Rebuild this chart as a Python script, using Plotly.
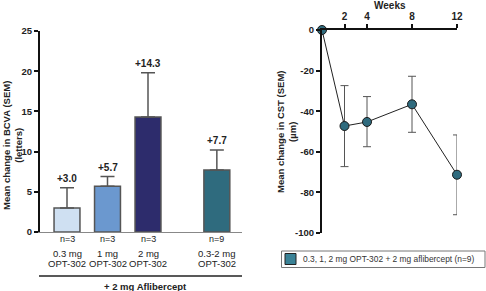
import plotly.graph_objects as go

W, H = 486, 291

# ---- data: left panel (BCVA) ----
bar_pos = [0, 1, 2, 3.7]
bar_vals = [3.0, 5.7, 14.3, 7.7]
bar_sem = [2.5, 1.2, 5.5, 2.5]
bar_labels = ["+3.0", "+5.7", "+14.3", "+7.7"]
bar_n = ["n=3", "n=3", "n=3", "n=9"]
bar_dose = ["0.3 mg", "1 mg", "2 mg", "0.3-2 mg"]
bar_drug = ["OPT-302", "OPT-302", "OPT-302", "OPT-302"]
bar_colors = ["#cfe0f2", "#6b98cf", "#2d2c6c", "#2f6b7e"]
bcva_ticks = [0, 5, 10, 15, 20, 25]

# ---- data: right panel (CST) ----
weeks = [0, 2, 4, 8, 12]
cst_vals = [0, -47.3, -45.3, -36.6, -71.3]
cst_sem_up = [0, 19.9, 12.5, 13.8, 19.6]
cst_sem_dn = [0, 20.0, 12.2, 13.8, 19.7]
week_ticks = [2, 4, 8, 12]
cst_ticks = [0, -20, -40, -60, -80, -100]
legend_label = "0.3, 1, 2 mg OPT-302 + 2 mg aflibercept (n=9)"
legend_color = "#3a8296"

FONT = "Liberation Sans, Arial, sans-serif"

def px_x(p):
    return p / W

def px_y(p):
    return (H - p) / H

fig = go.Figure()

fig.add_trace(go.Bar(
    x=bar_pos, y=bar_vals, width=0.64,
    marker=dict(color=bar_colors, line=dict(color="#555555", width=1.5)),
    error_y=dict(type="data", symmetric=False, array=bar_sem,
                 arrayminus=[0] * len(bar_sem), color="#555555",
                 thickness=1.5, width=7),
    xaxis="x", yaxis="y", showlegend=False,
))

fig.add_trace(go.Scatter(
    x=weeks, y=cst_vals, mode="lines+markers", name=legend_label,
    line=dict(color="#222222", width=1),
    marker=dict(size=9, color="#2f6b7e", line=dict(color="#1a1a1a", width=1)),
    error_y=dict(type="data", symmetric=False, array=cst_sem_up,
                 arrayminus=cst_sem_dn, color="#555555", thickness=1, width=4),
    xaxis="x2", yaxis="y2", showlegend=False, cliponaxis=False,
))

def txt(x, y, text, size=9.5, bold=False, xref="paper", yref="paper",
        xanchor="center", yanchor="middle", angle=0, color="#222222", yshift=0):
    f = dict(family=FONT, size=size, color=color)
    if bold:
        f["weight"] = "bold"
    return dict(x=x, y=y, xref=xref, yref=yref, text=text, showarrow=False,
                xanchor=xanchor, yanchor=yanchor, textangle=angle, font=f,
                yshift=yshift)

ann = []
for xp, v, s, lab in zip(bar_pos, bar_vals, bar_sem, bar_labels):
    ann.append(txt(xp, v + s, lab, size=10, bold=True, xref="x", yref="y",
                   yanchor="bottom", yshift=2))
for xp, n, d, g in zip(bar_pos, bar_n, bar_dose, bar_drug):
    ann.append(txt(xp, px_y(239), n, size=9, xref="x"))
    ann.append(txt(xp, px_y(253), d, size=9.5, xref="x"))
    ann.append(txt(xp, px_y(263.5), g, size=9.5, xref="x"))
ann.append(txt(px_x(145), px_y(286), "+ 2 mg Aflibercept", size=9.5, bold=True))
ann.append(txt(px_x(12), px_y(146), "Mean change in BCVA (SEM)<br>(letters)",
               size=9.5, bold=True, angle=-90))
ann.append(txt(px_x(286), px_y(132), "Mean change in CST (SEM)<br>(µm)",
               size=9.5, bold=True, angle=-90))
ann.append(txt(px_x(390), px_y(5.5), "Weeks", size=10, bold=True))
# legend text
ann.append(txt(px_x(301), px_y(259), legend_label, size=8.4, xanchor="left",
               color="#333333"))

shapes = [
    dict(type="line", xref="paper", yref="paper",
         x0=px_x(39), x1=px_x(242), y0=px_y(276), y1=px_y(276),
         line=dict(color="#222222", width=1.5)),
    # legend frame
    dict(type="rect", xref="paper", yref="paper",
         x0=px_x(281.5), x1=px_x(485), y0=px_y(251), y1=px_y(267.5),
         line=dict(color="#777777", width=1), fillcolor="white"),
    # legend swatch
    dict(type="rect", xref="paper", yref="paper",
         x0=px_x(285), x1=px_x(296), y0=px_y(253.5), y1=px_y(264.5),
         line=dict(color="#222222", width=1), fillcolor=legend_color),
]

x_lo = (40 - 67) / 40.5
x_hi = (242 - 67) / 40.5

fig.update_layout(
    width=W, height=H, margin=dict(l=0, r=0, t=0, b=0, autoexpand=False),
    paper_bgcolor="white", plot_bgcolor="white",
    font=dict(family=FONT, color="#222222"),
    showlegend=False,
    xaxis=dict(domain=[px_x(40), px_x(242)], range=[x_lo, x_hi],
               showgrid=False, zeroline=False, showticklabels=False, ticks="",
               showline=True, linecolor="#888888", linewidth=1),
    yaxis=dict(domain=[px_y(232), px_y(31)], range=[0, 25],
               tickvals=bcva_ticks, ticktext=[str(t) for t in bcva_ticks],
               showgrid=False, zeroline=False, showline=True, linecolor="#111111",
               linewidth=2, ticks="outside", ticklen=4, tickwidth=1.5,
               tickcolor="#111111",
               tickfont=dict(family=FONT, size=9.5, color="#222222", weight="bold")),
    xaxis2=dict(domain=[px_x(322), px_x(457)], range=[0, 12], anchor="y2",
                side="top", tickvals=week_ticks, ticktext=[str(t) for t in week_ticks],
                showgrid=False, zeroline=False, showline=True, linecolor="#111111",
                linewidth=2, ticks="outside", ticklen=4, tickwidth=1.5,
                tickcolor="#111111",
                tickfont=dict(family=FONT, size=10, color="#222222", weight="bold")),
    yaxis2=dict(domain=[px_y(233), px_y(30)], range=[-100, 0], anchor="x2",
                tickvals=cst_ticks, ticktext=[str(t) for t in cst_ticks],
                showgrid=False, zeroline=False, showline=True, linecolor="#111111",
                linewidth=2, ticks="outside", ticklen=4, tickwidth=1.5,
                tickcolor="#111111",
                tickfont=dict(family=FONT, size=9.5, color="#222222", weight="bold")),
    annotations=ann, shapes=shapes,
)

fig.write_html("out.html")
